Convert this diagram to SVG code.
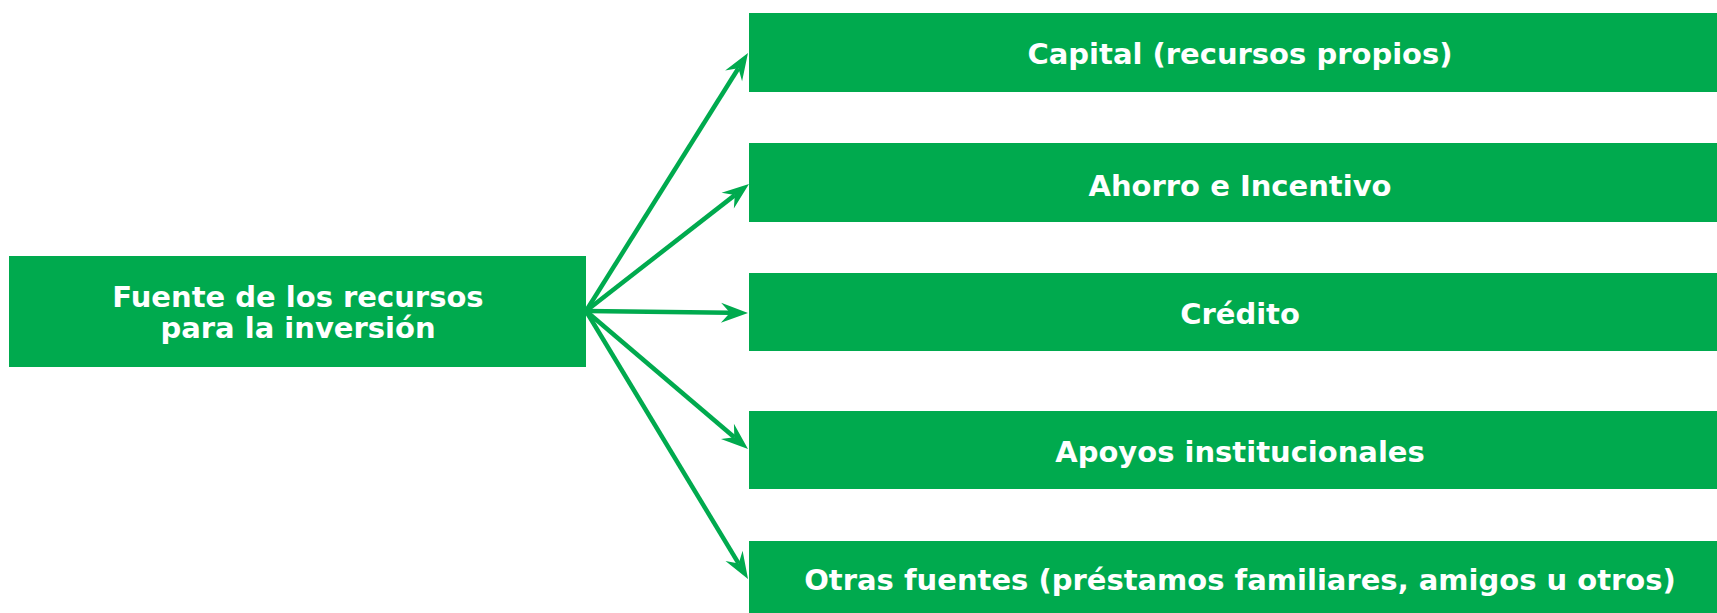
<svg xmlns="http://www.w3.org/2000/svg" width="1717" height="613" viewBox="0 0 1717 613">
  <defs>
    <style>
      .box { fill: #00aa4e; }
      .lbl { fill: #ffffff; font-family: "DejaVu Sans", Verdana, sans-serif; font-weight: bold; font-size: 29px; text-anchor: middle; }
      .conn { stroke: #00aa4e; stroke-width: 4.5; fill: none; marker-end: url(#arrow); }
    </style>
    <marker id="arrow" markerUnits="userSpaceOnUse" viewBox="-28 -12 30 24" markerWidth="30" markerHeight="24" refX="-18" refY="0" orient="auto">
      <path d="M0,0 L-27,-10 L-18,0 L-27,10 Z" fill="#00aa4e"/>
    </marker>
  </defs>
  <rect width="1717" height="613" fill="#ffffff"/>
  <circle cx="1745" cy="635" r="52" fill="#6cbf7c"/>
  <g id="connectors">
    <line class="conn" x1="586" y1="311" x2="738.4" y2="68.2"/>
    <line class="conn" x1="586" y1="311" x2="734.8" y2="195.1"/>
    <line class="conn" x1="586" y1="311" x2="730" y2="312.8"/>
    <line class="conn" x1="586" y1="311" x2="734.3" y2="437.3"/>
    <line class="conn" x1="586" y1="311" x2="738.7" y2="563.6"/>
  </g>
  <g id="source">
    <rect class="box" x="9" y="256" width="577" height="111"/>
    <text class="lbl" x="298" y="307">Fuente de los recursos</text>
    <text class="lbl" x="298" y="338">para la inversión</text>
  </g>
  <g id="capital">
    <rect class="box" x="749" y="13" width="968" height="79"/>
    <text class="lbl" x="1240" y="64">Capital (recursos propios)</text>
  </g>
  <g id="ahorro">
    <rect class="box" x="749" y="143" width="968" height="79"/>
    <text class="lbl" x="1240" y="196">Ahorro e Incentivo</text>
  </g>
  <g id="credito">
    <rect class="box" x="749" y="273" width="968" height="78"/>
    <text class="lbl" x="1240" y="324">Crédito</text>
  </g>
  <g id="apoyos">
    <rect class="box" x="749" y="411" width="968" height="78"/>
    <text class="lbl" x="1240" y="462">Apoyos institucionales</text>
  </g>
  <g id="otras">
    <rect class="box" x="749" y="541" width="968" height="72"/>
    <text class="lbl" x="1240" y="590">Otras fuentes (préstamos familiares, amigos u otros)</text>
  </g>
</svg>
